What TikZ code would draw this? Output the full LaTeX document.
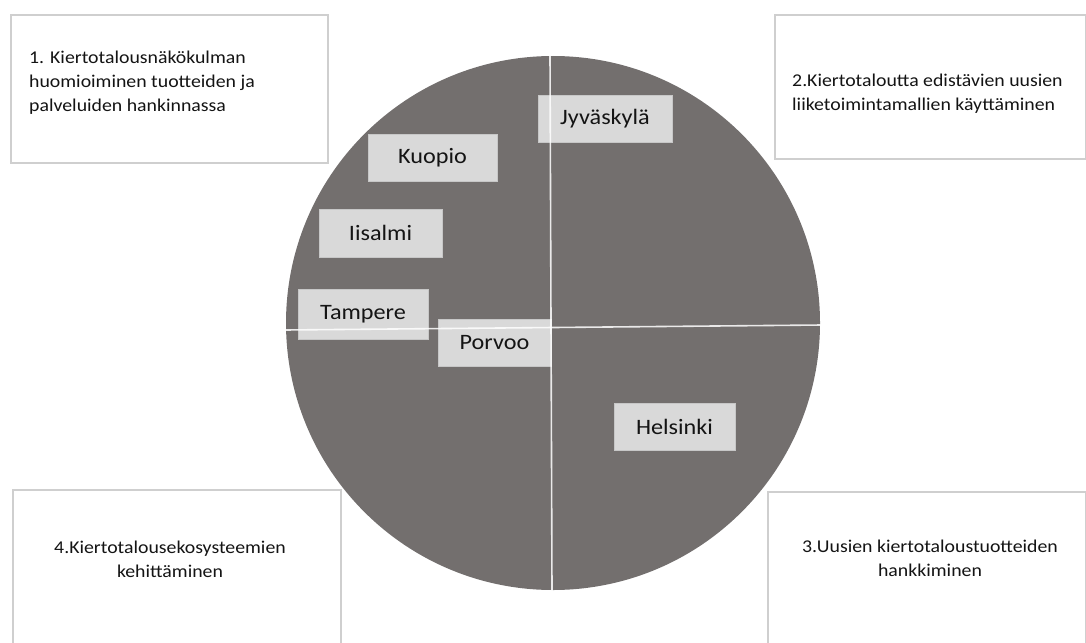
\documentclass[tikz,border=0pt]{standalone}
\usepackage{fontspec}
\setmainfont{Carlito}[FakeStretch=1.1]
\definecolor{disc}{HTML}{736F6E}
\definecolor{tag}{HTML}{D9D9D9}
\definecolor{frame}{HTML}{CFCFCF}
\tikzset{
    goalbox/.style={
        rectangle, draw=frame, line width=2pt,
        fill=white, anchor=north west, inner sep=0pt
    },
    goaltext/.style={font=\fontsize{18}{24}\selectfont, text=black!92, inner sep=0pt},
    city/.style={
        rectangle, draw=black!22, line width=0.6pt, fill=tag,
        inner sep=0pt, font=\fontsize{22}{26}\selectfont, text=black!92
    },
    divider/.style={draw=white, line width=1.6pt, opacity=0.85}
}

\begin{document}
\begin{tikzpicture}[x=1pt, y=-1pt]
\useasboundingbox (0,0) rectangle (1086,642);

% Goal boxes (corners)
\node[goalbox, minimum width=317pt, minimum height=148pt] (g1) at (10,14) {};
\node[goalbox, minimum width=311pt, minimum height=144pt] (g2) at (774,14) {};
\node[goalbox, minimum width=318pt, minimum height=170pt] (g3) at (767,491) {};
\node[goalbox, minimum width=328pt, minimum height=170pt] (g4) at (12,489) {};

\node[goaltext, anchor=west, align=left] (g1txt) at (29,83) {1. Kiertotalousnäkökulman\\huomioiminen tuotteiden ja\\palveluiden hankinnassa};
\node[goaltext, anchor=west, align=left] (g2txt) at (792,94) {2.Kiertotaloutta edistävien uusien\\liiketoimintamallien käyttäminen};
\node[goaltext, align=center] (g3txt) at (930,558) {3.Uusien kiertotaloustuotteiden\\hankkiminen};
\node[goaltext, align=center] (g4txt) at (170,559) {4.Kiertotalousekosysteemien\\kehittäminen};

% The disc
\node[circle, fill=disc, minimum size=534pt, inner sep=0pt] (disc) at (553,323) {};

% Cities
\node[city, minimum width=134pt, minimum height=47pt] (jyv) at (605,118.5) {Jyväskylä};
\node[city, minimum width=129pt, minimum height=47pt] (kuo) at (432.5,157.5) {Kuopio};
\node[city, minimum width=123pt, minimum height=48pt] (iis) at (380.5,233) {Iisalmi};
\node[city, minimum width=130pt, minimum height=50pt] (tam) at (363,314) {Tampere};
\node[city, minimum width=113pt, minimum height=47pt] (por) at (494.5,342.5) {Porvoo};
\node[city, minimum width=121pt, minimum height=47pt] (hel) at (674.5,426.5) {Helsinki};

% Quadrant lines
\coordinate (vtop) at (550,55);
\coordinate (vbot) at (552,591);
\coordinate (hleft) at (285,330);
\coordinate (hright) at (822,325);
\draw[divider] (vtop) -- (vbot);
\draw[divider] (hleft) -- (hright);

\end{tikzpicture}
\end{document}
